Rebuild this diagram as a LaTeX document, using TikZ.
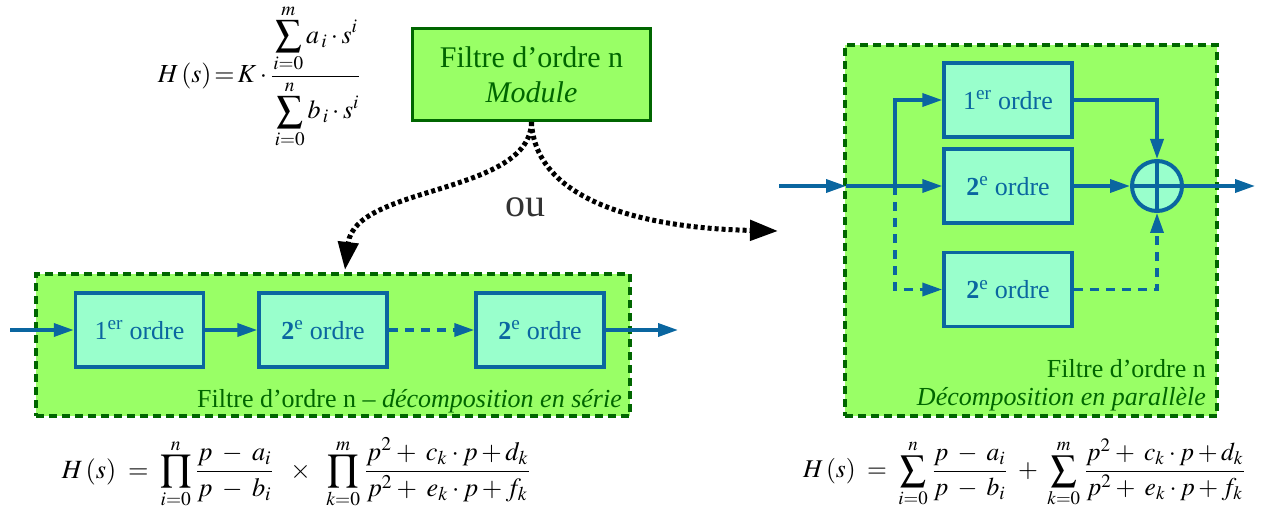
\documentclass[tikz,border=0pt]{standalone}
\usepackage{graphicx}
\usepackage{mathptmx}
\usepackage{fontspec}
\setmainfont{Liberation Serif}
\usetikzlibrary{arrows.meta}
\definecolor{gfill}{HTML}{99FF66}
\definecolor{gdark}{HTML}{006600}
\definecolor{afill}{HTML}{99FFCC}
\definecolor{bline}{HTML}{0A66A0}
\definecolor{ougray}{HTML}{333333}
\begin{document}
\begin{tikzpicture}[x=1pt,y=-1pt,
  blk/.style={draw=bline,line width=3.5pt,fill=afill,minimum width=128pt,minimum height=74pt,inner sep=0pt,text=bline,font=\fontsize{26}{30}\selectfont},
  sig/.style={draw=bline,line width=3.5pt,-{Triangle[length=20pt,width=13pt]}},
  sigdash/.style={sig,dash pattern=on 9pt off 7pt},
  group/.style={draw=gdark,line width=4pt,dash pattern=on 8pt off 5pt,fill=gfill},
  glabel/.style={text=gdark,anchor=base east,inner sep=0pt,font=\fontsize{26}{30}\selectfont},
  dotarrow/.style={draw=black,line width=5pt,dash pattern=on 4pt off 3pt,-{Triangle[length=28pt,width=20pt]}},
  formula/.style={inner sep=0pt}
]
\useasboundingbox (0,0) rectangle (1261,513);

% top formula
\node[formula,font=\fontsize{26}{30}\selectfont] (htop) at (259,76.5) {$\displaystyle H\,(s)\!=\!K\cdot\frac{\displaystyle\sum_{i=0}^{m} a_{\,i}\cdot s^{i}\rule[-4pt]{0pt}{0pt}}{\rule{0pt}{6pt}\displaystyle\sum_{i=0}^{n} b_{\,i}\cdot s^{i}}$};

% top box
\node[draw=gdark,line width=3pt,fill=gfill,minimum width=238pt,minimum height=92pt,inner sep=0pt,
      text=gdark,align=center,font=\fontsize{30}{35}\selectfont] (top) at (531.5,74.5)
      {Filtre d’ordre n\\\textit{Module}};

% series group
\node[group,minimum width=594pt,minimum height=142pt] (ser) at (333,345) {};
\node[glabel] (serlab) at (622,407) {Filtre d’ordre n – \textit{décomposition en série}};
\node[blk] (s1) at (139.5,330) {1\textsuperscript{er} ordre};
\node[blk] (s2) at (323,330) {\textbf{2}\textsuperscript{e} ordre};
\node[blk] (s3) at (540,330) {\textbf{2}\textsuperscript{e} ordre};
\coordinate (sin) at (10,330);
\coordinate (sout) at (678,330);
\draw[sig] (sin) -- (s1);
\draw[sig] (s1) -- (s2);
\draw[sigdash] (s2) -- (s3);
\draw[sig] (s3) -- (sout);

% parallel group
\node[group,minimum width=372pt,minimum height=371pt] (par) at (1031,230.5) {};
\node[glabel] (parlab1) at (1206,377) {Filtre d’ordre n};
\node[glabel] (parlab2) at (1206,405) {\textit{Décomposition en parallèle}};
\node[blk] (p1) at (1008,100) {1\textsuperscript{er} ordre};
\node[blk] (p2) at (1008,186) {\textbf{2}\textsuperscript{e} ordre};
\node[blk] (p3) at (1008,289.5) {\textbf{2}\textsuperscript{e} ordre};
\node[circle,draw=bline,line width=4pt,fill=afill,minimum size=50pt,inner sep=0pt] (sum) at (1157,186) {};
\draw[bline,line width=3.5pt] (sum.north) -- (sum.south) (sum.west) -- (sum.east);
\coordinate (pin) at (779,186);
\coordinate (pedge) at (846,186);
\coordinate (br) at (895,186);
\coordinate (pout) at (1255,186);
\draw[sig] (pin) -- (pedge);
\draw[sig] (pedge) -- (p2);
\draw[sig] (br) |- (p1);
\draw[sigdash] (br) |- (p3);
\draw[sig] (p1) -| (sum);
\draw[sig] (p2) -- (sum);
\draw[sigdash] (p3) -| (sum);
\draw[sig] (sum) -- (pout);

% dotted choice arrows
\coordinate (la) at (345,270);
\coordinate (ra) at (778,231);
\draw[dotarrow] (top.south) .. controls (530,195) and (355,185) .. (la);
\draw[dotarrow] (top.south) .. controls (535,200) and (640,228) .. (ra);
\node[text=ougray,anchor=base,inner sep=0pt,font=\fontsize{40}{40}\selectfont] (ou) at (525,217) {ou};

% bottom formulas
\node[formula] (hser) at (297,473) {\resizebox{470pt}{!}{$\displaystyle H\,(s) \;=\; \prod_{i=0}^{n}\frac{p\;-\;a_{i}}{p\;-\;b_{i}}\;\;\times\;\;\prod_{k=0}^{m}\frac{p^{2}+\;c_{k}\cdot p+d_{k}}{p^{2}+\;e_{k}\cdot p+f_{k}}$}};
\node[formula] (hpar) at (1025,473) {\resizebox{444pt}{!}{$\displaystyle H\,(s) \;=\; \sum_{i=0}^{n}\frac{p\;-\;a_{i}}{p\;-\;b_{i}}\;+\;\sum_{k=0}^{m}\frac{p^{2}+\;c_{k}\cdot p+d_{k}}{p^{2}+\;e_{k}\cdot p+f_{k}}$}};
\end{tikzpicture}
\end{document}
